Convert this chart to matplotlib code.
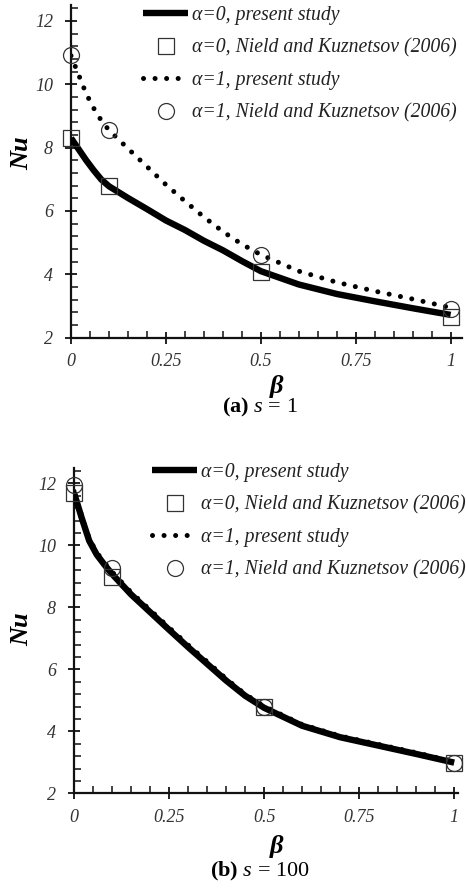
import matplotlib
matplotlib.use("Agg")
import matplotlib.pyplot as plt
from matplotlib.ticker import MultipleLocator

plt.rcParams['font.family'] = ['Liberation Serif', 'DejaVu Serif']
plt.rcParams['mathtext.fontset'] = 'custom'
plt.rcParams['mathtext.rm'] = 'Liberation Serif'
plt.rcParams['mathtext.it'] = 'Liberation Serif:italic'
plt.rcParams['mathtext.bf'] = 'Liberation Serif:bold'

# ---------------- data ----------------
beta = [0, 0.02, 0.04, 0.06, 0.08, 0.1, 0.15, 0.2, 0.25, 0.3, 0.35, 0.4, 0.45,
        0.5, 0.6, 0.7, 0.8, 0.9, 1.0]

# panel (a) s = 1
nu_a_alpha0 = [8.3, 7.95, 7.6, 7.28, 6.99, 6.78, 6.41, 6.06, 5.7, 5.4, 5.06, 4.76,
               4.42, 4.1, 3.68, 3.38, 3.15, 2.93, 2.72]
nu_a_alpha1 = [10.9, 10.3, 9.7, 9.24, 8.85, 8.55, 7.97, 7.4, 6.83, 6.31, 5.81, 5.35,
               4.95, 4.62, 4.1, 3.75, 3.47, 3.22, 2.95]

# panel (b) s = 100
nu_b_alpha0 = [11.7, 10.9, 10.15, 9.7, 9.38, 9.08, 8.42, 7.85, 7.28, 6.72, 6.18, 5.64,
               5.15, 4.76, 4.18, 3.81, 3.54, 3.27, 2.99]
nu_b_alpha1 = [11.75, 10.96, 10.22, 9.77, 9.45, 9.15, 8.49, 7.92, 7.35, 6.79, 6.25, 5.7,
               5.2, 4.81, 4.22, 3.85, 3.58, 3.31, 3.02]

ref_beta = [0, 0.1, 0.5, 1.0]
ref_a_alpha0 = [8.3, 6.8, 4.06, 2.66]
ref_a_alpha1 = [10.92, 8.55, 4.61, 2.9]
ref_b_alpha0 = [11.68, 8.99, 4.8, 2.97]
ref_b_alpha1 = [11.95, 9.26, 4.8, 2.97]

labels = ["α=0, present study", "α=0, Nield and Kuznetsov (2006)",
          "α=1, present study", "α=1, Nield and Kuznetsov (2006)"]
xticks = [0, 0.25, 0.5, 0.75, 1]
xticklabels = ["0", "0.25", "0.5", "0.75", "1"]
yticks = [2, 4, 6, 8, 10, 12]
captions = [r"$\mathbf{(a)}\ s\,=\,1$", r"$\mathbf{(b)}\ s\,=\,100$"]

# ---------------- figure ----------------
W, H = 466, 889
fig = plt.figure(figsize=(W / 100, H / 100), dpi=100)

def fx(px):
    return px / W

def fy(py):
    return 1 - py / H

tick_font = dict(family='Liberation Serif', style='italic', size=13)

panels = [
    dict(rect=[fx(71), fy(337.7), fx(462) - fx(71), fy(5) - fy(337.7)], xmax=1.03,
         a0=nu_a_alpha0, a1=nu_a_alpha1, r0=ref_a_alpha0, r1=ref_a_alpha1,
         cap=captions[0], cap_y=407, beta_y=386, nu_y=153, leg_x=143, leg_y=16),
    dict(rect=[fx(74), fy(793.3), fx(458) - fx(74), fy(468) - fy(793.3)], xmax=1.01,
         a0=nu_b_alpha0, a1=nu_b_alpha1, r0=ref_b_alpha0, r1=ref_b_alpha1,
         cap=captions[1], cap_y=871, beta_y=846, nu_y=629, leg_x=152, leg_y=473),
]

mcol = '#333333'
for p in panels:
    ax = fig.add_axes(p['rect'])
    ax.set_xlim(0, p['xmax'])
    ax.set_ylim(2, 12.5)
    for s in ['top', 'right']:
        ax.spines[s].set_visible(False)
    for s in ['left', 'bottom']:
        ax.spines[s].set_linewidth(1.6)
        ax.spines[s].set_color('#111111')
    ax.patch.set_alpha(0)

    h1, = ax.plot(beta, p['a1'], color='black', lw=3.6, linestyle=(0, (0.01, 2.3)),
                  dash_capstyle='round', zorder=2)
    h0, = ax.plot(beta, p['a0'], color='black', lw=4.6, solid_capstyle='butt',
                  solid_joinstyle='round', zorder=3)
    hs, = ax.plot(ref_beta, p['r0'], linestyle='none', marker='s', ms=11.5,
                  mfc='none', mec=mcol, mew=0.9, zorder=4, clip_on=False)
    hc, = ax.plot(ref_beta, p['r1'], linestyle='none', marker='o', ms=11.5,
                  mfc='none', mec=mcol, mew=0.9, zorder=4, clip_on=False)

    ax.set_xticks(xticks)
    ax.set_xticklabels(xticklabels, fontdict=tick_font, color='#333333')
    ax.set_yticks(yticks)
    ax.set_yticklabels([str(v) for v in yticks], fontdict=tick_font, color='#333333')
    ax.xaxis.set_minor_locator(MultipleLocator(0.05))
    ax.yaxis.set_minor_locator(MultipleLocator(0.4))
    ax.tick_params(which='major', direction='inout', length=9, width=1.3,
                   color='#111111')
    ax.tick_params(axis='x', which='major', pad=6.5)
    ax.tick_params(axis='y', which='major', pad=8.5)
    ax.tick_params(which='minor', direction='in', length=5, width=1.1,
                   color='#111111')

    fig.text(fx(22), fy(p['nu_y']), 'Nu', rotation=90, ha='center', va='center',
             family='Liberation Serif', style='italic', weight='bold', size=19)
    fig.text(fx(277), fy(p['beta_y']), 'β', ha='center', va='center',
             family='Liberation Serif', style='italic', weight='bold', size=19)
    fig.text(fx(260), fy(p['cap_y']), p['cap'], ha='center', va='center', size=16)

    leg = ax.legend([h0, hs, h1, hc], labels, loc='upper left',
                    bbox_to_anchor=(fx(p['leg_x']), fy(p['leg_y'] - 10)),
                    bbox_transform=fig.transFigure, frameon=False,
                    prop=dict(family='Liberation Serif', style='italic', size=14.2),
                    handlelength=2.3, handletextpad=0.2, labelspacing=0.68,
                    borderpad=0, borderaxespad=0, numpoints=1)
    for t in leg.get_texts():
        t.set_color('#222222')

fig.savefig('out.png', dpi=100)
